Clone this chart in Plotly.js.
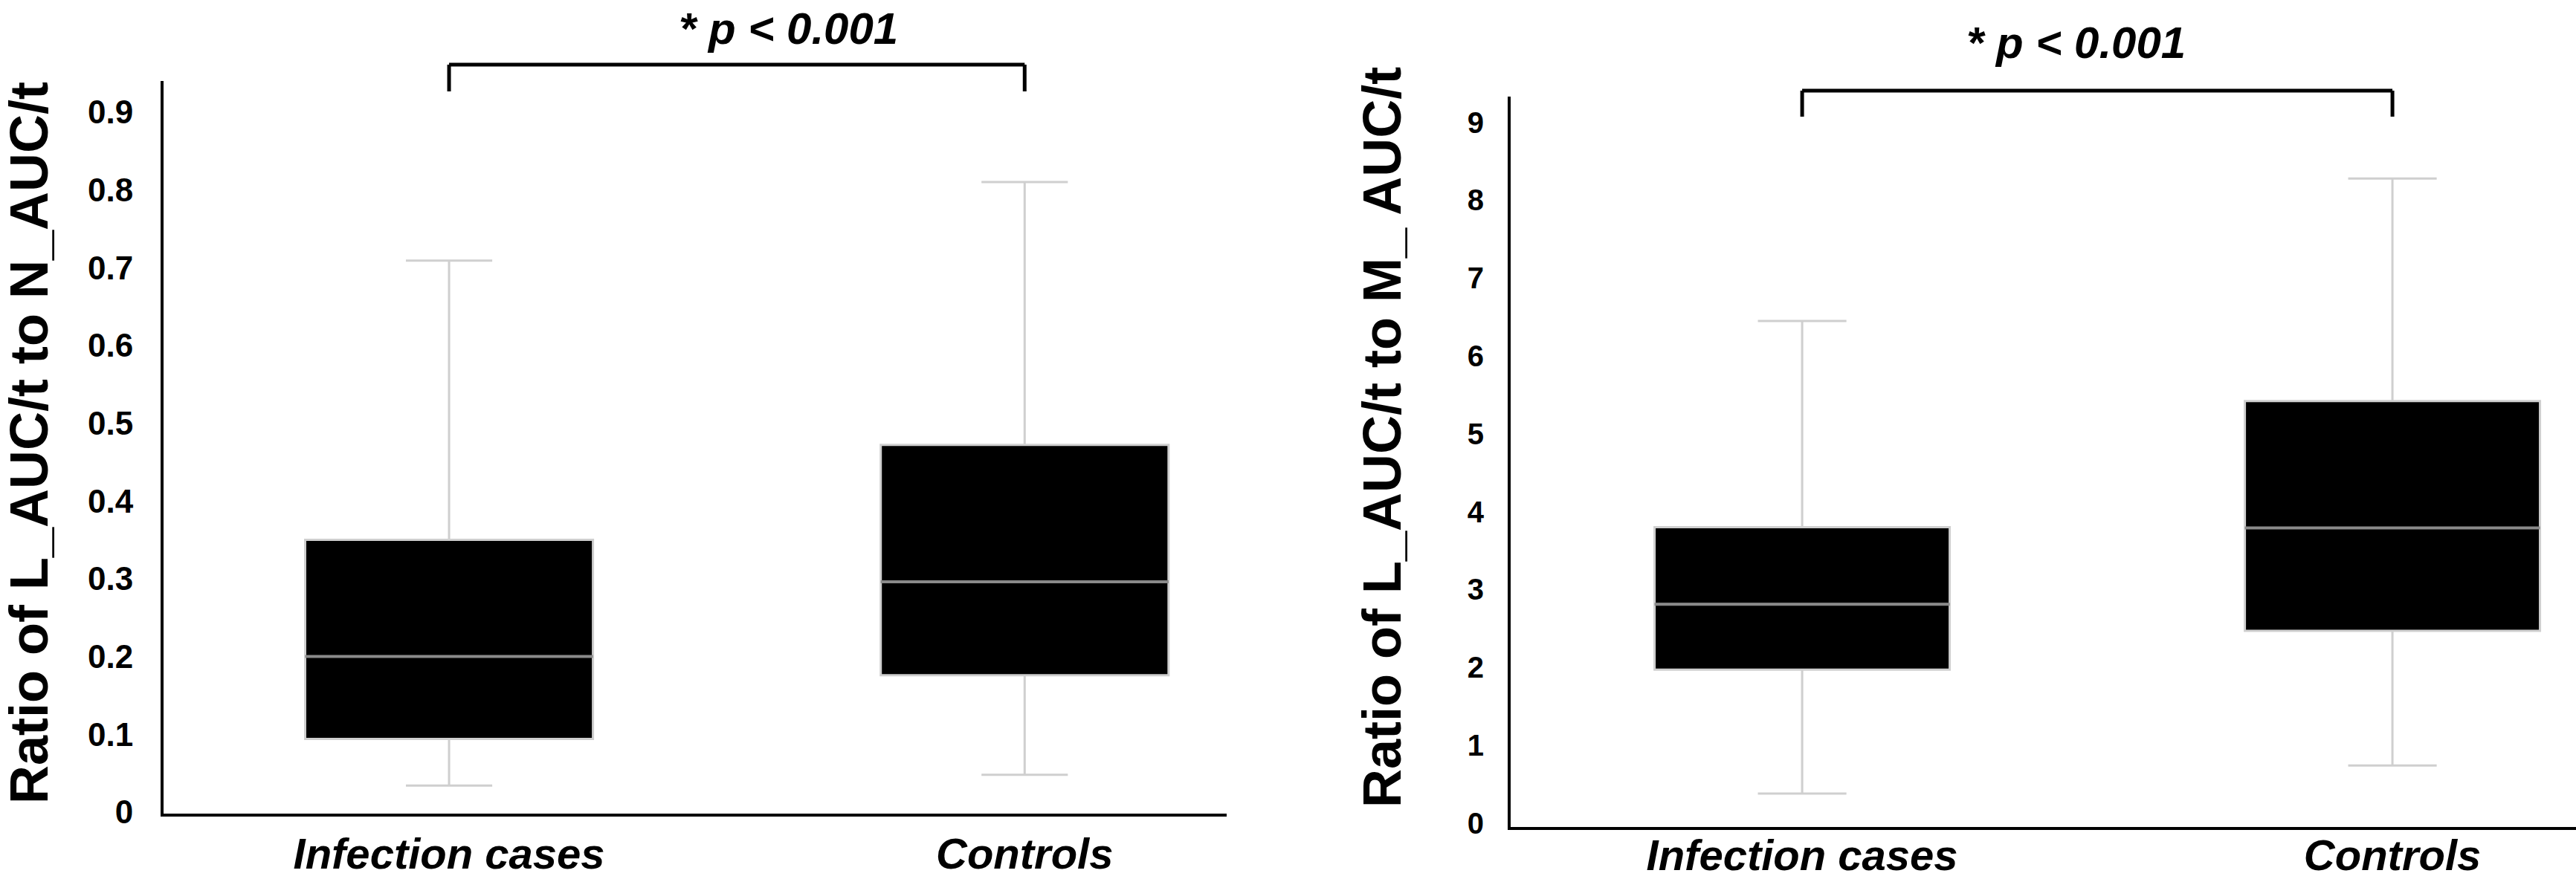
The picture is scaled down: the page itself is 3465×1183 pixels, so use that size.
<!DOCTYPE html>
<html>
<head>
<meta charset="utf-8">
<script src="https://cdn.plot.ly/plotly-3.0.1.min.js"></script>
<style>
  html, body { margin: 0; padding: 0; background: #fff; }
  #chart { width: 3465px; height: 1183px; }
</style>
</head>
<body>
<div id="chart"></div>
<script>
// groups on the x axis
const groups = ["Infection cases", "Controls"];

// left panel: ratio of L_AUC/t to N_AUC/t
const nLower = [0.034, 0.048];
const nQ1 = [0.094, 0.176];
const nMedian = [0.200, 0.296];
const nQ3 = [0.350, 0.472];
const nUpper = [0.709, 0.810];

// right panel: ratio of L_AUC/t to M_AUC/t
const mLower = [0.38, 0.74];
const mQ1 = [1.97, 2.47];
const mMedian = [2.81, 3.79];
const mQ3 = [3.80, 5.42];
const mUpper = [6.45, 8.28];

const pLabel = "* <i>p</i> < 0.001";
const yTitleLeft = "Ratio of L_AUC/t to N_AUC/t";
const yTitleRight = "Ratio of L_AUC/t to M_ AUC/t";

const FONT = "Liberation Sans, Arial, sans-serif";
const W = 3465, H = 1183;

function boxTrace(xa, ya, lo, q1, med, q3, hi) {
  return {
    type: "box", x: groups, xaxis: xa, yaxis: ya,
    lowerfence: lo, q1: q1, median: med, q3: q3, upperfence: hi,
    fillcolor: "#000000",
    line: { color: "#cfcfcf", width: 3 },
    whiskerwidth: 0.3, width: 0.5,
    hoverinfo: "skip", showlegend: false
  };
}

// median drawn again on top in a darker grey
function medianTrace(xa, ya, med) {
  return {
    type: "box", x: groups, xaxis: xa, yaxis: ya,
    lowerfence: med, q1: med, median: med, q3: med, upperfence: med,
    fillcolor: "rgba(0,0,0,0)",
    line: { color: "#8a8a8a", width: 4 },
    whiskerwidth: 0, width: 0.5,
    hoverinfo: "skip", showlegend: false
  };
}

const data = [
  boxTrace("x", "y", nLower, nQ1, nMedian, nQ3, nUpper),
  medianTrace("x", "y", nMedian),
  boxTrace("x2", "y2", mLower, mQ1, mMedian, mQ3, mUpper),
  medianTrace("x2", "y2", mMedian)
];

const xCommon = {
  type: "category", showline: true, linecolor: "#000", linewidth: 4,
  ticks: "", showgrid: false, zeroline: false, fixedrange: true,
  ticklabelstandoff: 0,
  tickfont: { family: FONT, size: 58, color: "#000", weight: "bold", style: "italic" }
};
const yCommon = {
  showline: true, linecolor: "#000", linewidth: 4,
  ticks: "", showgrid: false, zeroline: false, fixedrange: true,
  tickfont: { family: FONT, size: 44, color: "#000", weight: "bold" }
};

function bracket(xa, yTop, yBottom) {
  const line = { color: "#000", width: 5 };
  return [
    { type: "line", xref: xa, yref: "paper", x0: 0, x1: 1, y0: yTop, y1: yTop, line },
    { type: "line", xref: xa, yref: "paper", x0: 0, x1: 0, y0: yTop, y1: yBottom, line },
    { type: "line", xref: xa, yref: "paper", x0: 1, x1: 1, y0: yTop, y1: yBottom, line }
  ];
}

const py = (px) => (H - px) / H;
const pxx = (px) => px / W;

const layout = {
  width: W, height: H,
  margin: { l: 0, r: 0, t: 0, b: 0 },
  paper_bgcolor: "#fff", plot_bgcolor: "#fff",
  showlegend: false,
  boxmode: "overlay",
  xaxis: Object.assign({}, xCommon, { domain: [0.0635, 0.4762], range: [-0.496, 1.351], anchor: "y" }),
  yaxis: Object.assign({}, yCommon, { domain: [0.0744, 0.9079], range: [-0.002, 0.94], tick0: 0, dtick: 0.1, anchor: "x", ticklabelstandoff: 28 }),
  xaxis2: Object.assign({}, xCommon, { domain: [0.5864, 1], range: [-0.494, 1.311], anchor: "y2", ticklabelstandoff: -16 }),
  yaxis2: Object.assign({}, yCommon, { domain: [0.0592, 0.890], range: [-0.05, 9.33], tick0: 0, dtick: 1, anchor: "x2", ticklabelstandoff: 24,
    tickfont: { family: FONT, size: 40, color: "#000", weight: "bold" } }),
  shapes: [].concat(bracket("x", py(87), py(123)), bracket("x2", py(122), py(157))),
  annotations: [
    { text: yTitleLeft, textangle: -90, xref: "paper", yref: "paper", x: pxx(39), y: py(596),
      xanchor: "center", yanchor: "middle", showarrow: false,
      font: { family: FONT, size: 72, color: "#000", weight: "bold" } },
    { text: yTitleRight, textangle: -90, xref: "paper", yref: "paper", x: pxx(1859), y: py(589),
      xanchor: "center", yanchor: "middle", showarrow: false,
      font: { family: FONT, size: 72, color: "#000", weight: "bold" } },
    { text: pLabel, xref: "paper", yref: "paper", x: pxx(1060), y: py(38),
      xanchor: "center", yanchor: "middle", showarrow: false,
      font: { family: FONT, size: 60, color: "#000", weight: "bold", style: "italic" } },
    { text: pLabel, xref: "paper", yref: "paper", x: pxx(2792), y: py(58),
      xanchor: "center", yanchor: "middle", showarrow: false,
      font: { family: FONT, size: 60, color: "#000", weight: "bold", style: "italic" } }
  ]
};

Plotly.newPlot("chart", data, layout, { staticPlot: true, displayModeBar: false });
</script>
</body>
</html>
